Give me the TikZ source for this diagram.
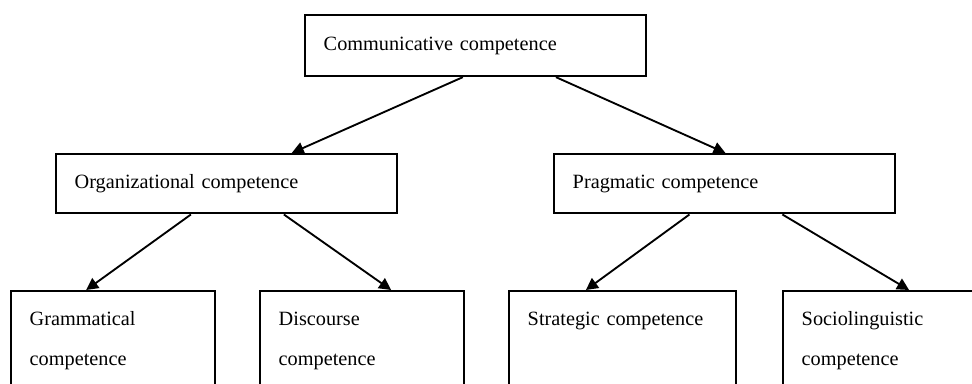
\documentclass[tikz,border=0pt]{standalone}
\usepackage{fontspec}
\setmainfont{Liberation Serif}
\usepackage{tikz}
\usetikzlibrary{arrows.meta, positioning}

\begin{document}
\begin{tikzpicture}[
    x=0.75pt, y=-0.75pt,
    box/.style={rectangle, draw=black, line width=1.6pt, anchor=north west,
                inner xsep=14pt, inner ysep=0pt, align=left, font=\fontsize{15.2}{30}\selectfont},
    wide/.style={box, text width=227.5pt, minimum height=44.5pt},
    small/.style={box, text width=125pt, minimum height=75pt},
    arrow/.style={-{Triangle[length=9pt, width=9pt]}, line width=1.4pt}
  ]
    \clip (0,0) rectangle (972,383);
    % top level
    \node[wide, minimum height=45.75pt] (comm) at (304,14) {Communicative competence};
    % second level
    \node[wide] (org) at (55,153) {Organizational competence};
    \node[wide] (prag) at (553,153) {Pragmatic competence};
    % third level
    \node[small] (gram) at (10,290) {Grammatical\\competence};
    \node[small] (disc) at (259,290) {Discourse\\competence};
    \node[small, text width=142pt] (strat) at (508,290) {Strategic competence\\\vphantom{p}};
    \node[small] (socio) at (782,290) {Sociolinguistic\\competence};
    \draw[arrow] ([xshift=-9.4pt]comm.south) -- ([xshift=49pt]org.north);
    \draw[arrow] ([xshift=60.4pt]comm.south) -- ([xshift=0.8pt]prag.north);
    \draw[arrow] ([xshift=-26.6pt]org.south) -- ([xshift=-20.2pt]gram.north);
    \draw[arrow] ([xshift=43.1pt]org.south) -- ([xshift=21.8pt]disc.north);
    \draw[arrow] ([xshift=-26.2pt]prag.south) -- ([xshift=-27.4pt]strat.north);
    \draw[arrow] ([xshift=43.5pt]prag.south) -- ([xshift=18pt]socio.north);
  \end{tikzpicture}
\end{document}
